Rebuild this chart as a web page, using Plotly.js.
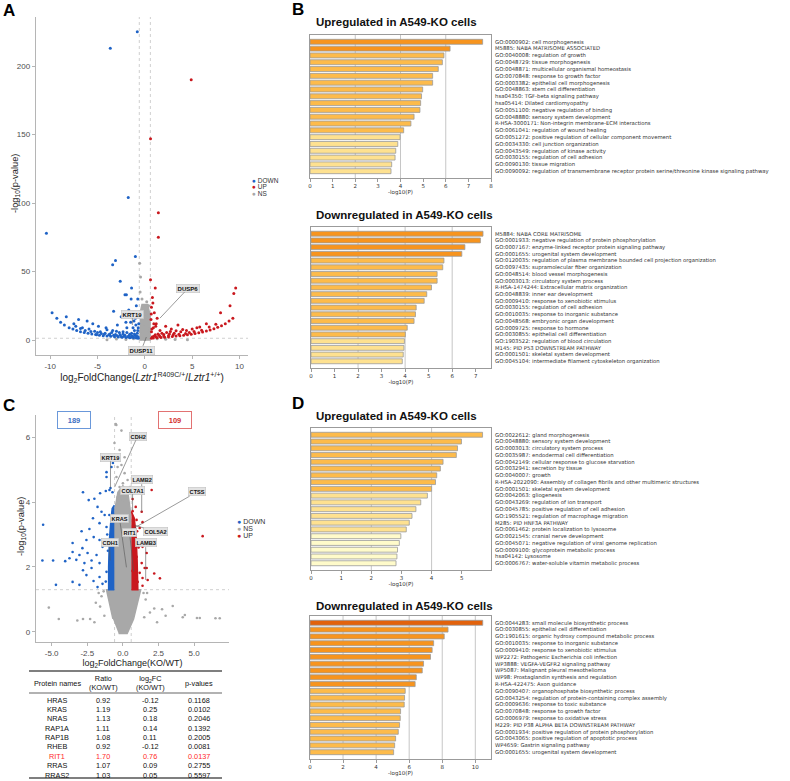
<!DOCTYPE html>
<html>
<head>
<meta charset="utf-8">
<script src="https://cdn.plot.ly/plotly-3.0.1.min.js"></script>
<style>
  html, body { margin: 0; padding: 0; background: #fff; }
  #fig { width: 790px; height: 781px; }
</style>
</head>
<body>
<div id="fig"></div>
<script>
const W = 790, H = 781;
const BLUE = "#1f63c6", RED = "#c9181e", GRAY = "#a8a8a8";

// ---- panel A volcano (RNA-seq) ----
const aBlue = [
  [-0.8, 225], [-3.65, 213], [-1.75, 104], [-10.4, 78], [-1.0, 61], [-3.1, 58], [-3.4, 55],
  [-2.6, 43], [-1.4, 38], [-2.1, 33], [-1.95, 33], [-1.45, 30], [-0.75, 30],
  [-9.8, 20], [-9.3, 16], [-8.9, 13], [-8.5, 11], [-8.0, 9], [-7.6, 8], [-7.2, 7], [-6.8, 6],
  [-6.4, 5.5], [-6.0, 5], [-5.6, 4.5], [-5.2, 4], [-4.8, 3.5], [-4.4, 3.2], [-4.0, 3],
  [-3.6, 2.7], [-3.2, 2.5], [-2.8, 2.3], [-2.4, 2.1], [-2.0, 1.9], [-1.6, 1.7], [-1.2, 1.6],
  [-0.9, 1.5], [-7.5, 12], [-6.6, 9], [-5.9, 8], [-5.3, 6.5], [-4.7, 6], [-4.2, 5], [-3.7, 4.5],
  [-3.1, 4], [-2.6, 3.8], [-2.1, 3.5], [-1.7, 3], [-1.3, 2.8], [-0.9, 3], [-0.7, 2.2],
  [-6.1, 14], [-4.9, 10], [-4.1, 9], [-3.4, 7], [-2.9, 11], [-2.3, 6], [-1.9, 9], [-1.5, 13],
  [-1.1, 7], [-0.8, 5], [-0.7, 9], [-1.0, 16], [-2.5, 17], [-3.3, 21], [-1.7, 22], [-0.9, 25],
  [-0.65, 12], [-1.4, 5], [-2.0, 13], [-5.5, 12], [-8.3, 17], [-7.0, 15],
  [-0.7, 1.4], [-0.8, 2.6], [-1.0, 3.6], [-1.1, 4.4], [-1.2, 2.2], [-1.4, 3.2], [-1.5, 1.9],
  [-1.6, 4.2], [-1.8, 2.5], [-1.9, 5.5], [-2.2, 2.8], [-2.3, 4.5], [-2.5, 2.6], [-2.7, 5.5],
  [-2.9, 3.2], [-3.0, 6.5], [-3.3, 3.6], [-3.5, 5.5], [-3.8, 3.8], [-4.0, 7.5], [-4.3, 4.2],
  [-4.6, 4.8], [-5.0, 5.5], [-5.1, 3.9], [-5.7, 6.2], [-6.3, 7], [-6.8, 8.5], [-7.3, 10],
  [-0.75, 7], [-0.95, 11], [-1.25, 9], [-0.68, 18], [-1.15, 14], [-0.85, 20]
];
const aRed = [
  [4.9, 190], [0.6, 147], [1.43, 93], [1.43, 75], [0.6, 44], [1.1, 38], [9.6, 38], [9.4, 34],
  [0.8, 31], [0.9, 1.5], [1.3, 1.7], [1.7, 1.9], [2.1, 2.1], [2.5, 2.3], [2.9, 2.6], [3.3, 2.9],
  [3.7, 3.2], [4.1, 3.5], [4.5, 3.9], [4.9, 4.3], [5.3, 4.8], [5.7, 5.3], [6.1, 5.9], [6.5, 6.6],
  [6.9, 7.4], [7.3, 8.3], [7.7, 9.3], [8.1, 10.5], [8.5, 12], [8.9, 14], [9.3, 16],
  [1.0, 3], [1.5, 3.5], [2.0, 4], [2.6, 4.5], [3.1, 5], [3.8, 6], [4.4, 7], [5.0, 8], [5.8, 9.5],
  [0.7, 6], [0.9, 9], [1.2, 12], [1.6, 7], [2.2, 10], [2.8, 8], [0.65, 15], [1.0, 20],
  [0.7, 24], [3.5, 11], [6.5, 12], [8.0, 20], [9.0, 25],
  [0.7, 1.4], [0.8, 2.5], [1.1, 3.8], [1.2, 2.2], [1.4, 4.5], [1.6, 2.6], [1.8, 5], [2.0, 3],
  [2.3, 5.5], [2.5, 3.3], [2.7, 6.2], [3.0, 3.8], [3.3, 6.8], [3.6, 4.2], [4.0, 7.8], [4.3, 4.8],
  [4.7, 5.6], [5.2, 6.2], [5.5, 9], [6.0, 7.2], [6.8, 9.5], [7.5, 11.5], [0.75, 8], [0.95, 12],
  [1.3, 16], [0.68, 19], [1.15, 10], [0.85, 27]
];
const aGray = [
  [-0.55, 56], [-0.45, 46], [-0.5, 35], [-0.3, 30], [0.2, 28], [0.4, 25], [-0.2, 22],
  [0.1, 19], [-0.4, 17], [0.3, 15], [0, 12], [-0.3, 10], [0.5, 8], [-0.5, 6], [0.2, 5],
  [-0.1, 3], [0.4, 2], [-0.4, 1], [0, 0.5], [-3, 0.8], [-2, 0.5], [-1.2, 1.0], [1.3, 0.9],
  [2.2, 0.6], [3.2, 0.4], [-4, 0.3], [4.5, 0.3]
];
const aGrayCore = [[-0.55, 0], [0.55, 0], [0.55, 18], [0.3, 26], [-0.3, 26], [-0.55, 18]];
const aLabels = [
  ["DUSP6", 1.6, 16, 4.6, 38],
  ["KRT19", -1.32, 11, -1.32, 19],
  ["DUSP11", 0.16, 2.2, -0.37, -7.3]
];

// ---- panel C volcano (proteomics) ----
const cBlue = [
  [-5.6, 3.3], [-2.9, 3.1], [-5.65, 2.2], [-4.9, 2.2], [-4.05, 2.18], [-3.53, 2.74],
  [-2.8, 4.3], [-2.4, 4.06], [-2.0, 4.1], [-1.6, 4.27], [-1.2, 4.34], [-0.94, 4.37],
  [-0.73, 4.3], [-1.15, 4.77], [-1.15, 4.92], [-0.8, 5.08], [-0.7, 5.2], [-0.87, 4.43],
  [-1.78, 3.85], [-1.5, 3.7], [-1.28, 3.6], [-2.1, 3.5], [-1.64, 3.35], [-1.15, 3.23],
  [-2.35, 3.17], [-2.05, 2.92], [-2.56, 2.83], [-1.64, 2.83], [-1.43, 2.62], [-2.84, 2.58],
  [-2.48, 2.43], [-1.85, 2.37], [-2.2, 2.2], [-2.7, 2.12], [-3.53, 2.46], [-1.64, 2.12],
  [-3.27, 2.22], [-3.75, 2.27], [-3.05, 2.37], [-2.8, 1.9], [-2.56, 1.75], [-2.06, 1.57],
  [-1.64, 1.69], [-1.43, 1.48], [-1.78, 1.38], [-3.53, 1.54], [-4.7, 1.45], [-3.05, 1.45],
  [-1.15, 1.85], [-2.2, 1.97], [-1.05, 2.5], [-1.1, 3.0], [-0.95, 3.6], [-1.2, 1.55]
];
const cBlueCore = [[-0.6, 1.3], [-1.0, 1.3], [-1.0, 2.0], [-0.95, 2.8], [-0.85, 3.4], [-0.75, 3.8], [-0.6, 3.9]];
const cRed = [
  [2.02, 4.37], [5.6, 2.95], [2.6, 1.65], [2.2, 1.8], [0.68, 3.72], [1.32, 3.7], [0.9, 3.85],
  [0.96, 3.45], [1.38, 3.38], [1.74, 3.14], [1.18, 3.2], [2.02, 2.77], [1.04, 2.83],
  [1.38, 2.62], [1.67, 2.43], [0.96, 2.31], [1.32, 2.12], [1.53, 1.97], [0.82, 1.85],
  [0.96, 1.69], [0.68, 4.09], [0.68, 1.88], [0.82, 1.6], [1.04, 1.54], [1.38, 1.66],
  [1.74, 1.6], [1.18, 1.82], [0.96, 1.42], [1.38, 1.42], [1.67, 1.97], [1.1, 2.6], [1.0, 3.1]
];
const cRedCore = [[0.6, 1.3], [1.05, 1.3], [1.0, 2.2], [0.92, 3.0], [0.8, 3.5], [0.6, 3.7]];
const cGray = [
  [-0.5, 6.4], [-0.37, 5.08], [-0.1, 5.14], [-0.45, 4.77], [0.12, 4.89], [0.33, 4.68],
  [-0.23, 4.46], [0.26, 4.28], [-0.37, 4.15], [-0.02, 4.06], [-0.59, 5.82], [-0.23, 5.6],
  [0.12, 5.38], [-0.1, 6.2], [-0.46, 6.37], [0, 4.58], [0.5, 4.46],
  [-5.2, 0.75], [-4.5, 0.4], [3.5, 0.8], [4.2, 0.45], [4.35, 0.52], [5.2, 0.43], [5.4, 0.43],
  [6.5, 0.42], [6.8, 0.42], [-2.8, 0.4], [-2.3, 0.4], [-1.6, 0.78], [2.75, 0.7], [2.2, 0.72],
  [-1.9, 0.9], [-1.5, 1.1], [1.6, 1.0], [1.9, 0.6], [-2.0, 0.3], [2.4, 0.3], [-1.3, 0.5],
  [1.5, 0.45], [-3.2, 0.35], [3.0, 0.5], [-1.7, 1.2], [1.7, 1.2], [-1.35, 1.25], [1.45, 1.2]
];
const cGrayCore = [
  [-0.3, -0.05], [0.3, -0.05], [0.75, 0.4], [1.05, 0.9], [1.25, 1.3], [0.6, 1.3], [0.6, 3.0],
  [0.5, 3.8], [0.35, 4.3], [0, 4.5], [-0.35, 4.3], [-0.55, 3.8], [-0.6, 3.0], [-0.6, 1.3],
  [-1.15, 1.3], [-0.95, 0.9], [-0.7, 0.4]
];
const cLabels = [
  ["CDH2", -0.58, 4.46, 1.04, 6.03],
  ["KRT19", -0.87, 4.43, -0.87, 5.38],
  ["LAMB2", 1.32, 3.69, 1.32, 4.68],
  ["COL7A1", 0.68, 3.75, 0.68, 4.37],
  ["CTSS", 0.68, 3.17, 5.2, 4.31],
  ["KRAS", 0.25, 1.99, -0.23, 3.48],
  ["RIT1", 0.76, 1.86, 0.47, 3.05],
  ["COL5A2", 0.82, 3.29, 2.3, 3.08],
  ["CDH1", -0.9, 2.2, -0.94, 2.74],
  ["LAMB3", 1.6, 1.6, 1.6, 2.74]
];
const cCounts = ["189", "109"];

// ---- table ----
const tableHeader = ["Protein names", "Ratio<br>(KO/WT)", "log<sub>2</sub>FC<br>(KO/WT)", "p-values"];
const protNames = ["HRAS", "KRAS", "NRAS", "RAP1A", "RAP1B", "RHEB", "RIT1", "RRAS", "RRAS2"];
const protRatio = ["0.92", "1.19", "1.13", "1.11", "1.08", "0.92", "1.70", "1.07", "1.03"];
const protLog2FC = ["-0.12", "0.25", "0.18", "0.14", "0.11", "-0.12", "0.76", "0.09", "0.05"];
const protP = ["0.1168", "0.0102", "0.2046", "0.1392", "0.2005", "0.0081", "0.0137", "0.2755", "0.5597"];

// ---- enrichment bars ----
const bUpTerms = [
  "GO:0000902: cell morphogenesis",
  "M5885: NABA MATRISOME ASSOCIATED",
  "GO:0040008: regulation of growth",
  "GO:0048729: tissue morphogenesis",
  "GO:0048871: multicellular organismal homeostasis",
  "GO:0070848: response to growth factor",
  "GO:0003382: epithelial cell morphogenesis",
  "GO:0048863: stem cell differentiation",
  "hsa04350: TGF-beta signaling pathway",
  "hsa05414: Dilated cardiomyopathy",
  "GO:0051100: negative regulation of binding",
  "GO:0048880: sensory system development",
  "R-HSA-3000171: Non-integrin membrane-ECM interactions",
  "GO:0061041: regulation of wound healing",
  "GO:0051272: positive regulation of cellular component movement",
  "GO:0034330: cell junction organization",
  "GO:0043549: regulation of kinase activity",
  "GO:0030155: regulation of cell adhesion",
  "GO:0090130: tissue migration",
  "GO:0090092: regulation of transmembrane receptor protein serine/threonine kinase signaling pathway"
];
const bUpVals = [7.63, 6.19, 5.92, 5.85, 5.67, 5.42, 5.42, 4.98, 4.93, 4.89, 4.86, 4.60, 4.46, 4.14, 3.98, 3.88, 3.79, 3.76, 3.61, 3.58];

const bDownTerms = [
  "M5884: NABA CORE MATRISOME",
  "GO:0001933: negative regulation of protein phosphorylation",
  "GO:0007167: enzyme-linked receptor protein signaling pathway",
  "GO:0001655: urogenital system development",
  "GO:0120035: regulation of plasma membrane bounded cell projection organization",
  "GO:0097435: supramolecular fiber organization",
  "GO:0048514: blood vessel morphogenesis",
  "GO:0003013: circulatory system process",
  "R-HSA-1474244: Extracellular matrix organization",
  "GO:0048839: inner ear development",
  "GO:0009410: response to xenobiotic stimulus",
  "GO:0030155: regulation of cell adhesion",
  "GO:0010035: response to inorganic substance",
  "GO:0048568: embryonic organ development",
  "GO:0009725: response to hormone",
  "GO:0030855: epithelial cell differentiation",
  "GO:1903522: regulation of blood circulation",
  "M145: PID P53 DOWNSTREAM PATHWAY",
  "GO:0001501: skeletal system development",
  "GO:0045104: intermediate filament cytoskeleton organization"
];
const bDownVals = [7.31, 7.20, 6.54, 6.41, 5.65, 5.60, 5.36, 5.36, 5.12, 4.92, 4.81, 4.47, 4.44, 4.38, 4.09, 4.01, 3.97, 3.95, 3.92, 3.88];

const dUpTerms = [
  "GO:0022612: gland morphogenesis",
  "GO:0048880: sensory system development",
  "GO:0003013: circulatory system process",
  "GO:0035987: endodermal cell differentiation",
  "GO:0042149: cellular response to glucose starvation",
  "GO:0032941: secretion by tissue",
  "GO:0040007: growth",
  "R-HSA-2022090: Assembly of collagen fibrils and other multimeric structures",
  "GO:0001501: skeletal system development",
  "GO:0042063: gliogenesis",
  "GO:0043269: regulation of ion transport",
  "GO:0045785: positive regulation of cell adhesion",
  "GO:1905521: regulation of macrophage migration",
  "M285: PID HNF3A PATHWAY",
  "GO:0061462: protein localization to lysosome",
  "GO:0021545: cranial nerve development",
  "GO:0045071: negative regulation of viral genome replication",
  "GO:0009100: glycoprotein metabolic process",
  "hsa04142: Lysosome",
  "GO:0006767: water-soluble vitamin metabolic process"
];
const dUpVals = [5.69, 4.99, 4.86, 4.82, 4.38, 4.29, 4.17, 4.13, 4.00, 3.86, 3.64, 3.48, 3.35, 3.26, 3.16, 2.98, 2.93, 2.87, 2.85, 2.82];

const dDownTerms = [
  "GO:0044283: small molecule biosynthetic process",
  "GO:0030855: epithelial cell differentiation",
  "GO:1901615: organic hydroxy compound metabolic process",
  "GO:0010035: response to inorganic substance",
  "GO:0009410: response to xenobiotic stimulus",
  "WP2272: Pathogenic Escherichia coli infection",
  "WP3888: VEGFA-VEGFR2 signaling pathway",
  "WP5087: Malignant pleural mesothelioma",
  "WP98: Prostaglandin synthesis and regulation",
  "R-HSA-422475: Axon guidance",
  "GO:0090407: organophosphate biosynthetic process",
  "GO:0043254: regulation of protein-containing complex assembly",
  "GO:0009636: response to toxic substance",
  "GO:0070848: response to growth factor",
  "GO:0006979: response to oxidative stress",
  "M229: PID P38 ALPHA BETA DOWNSTREAM PATHWAY",
  "GO:0001934: positive regulation of protein phosphorylation",
  "GO:0043065: positive regulation of apoptotic process",
  "WP4659: Gastrin signaling pathway",
  "GO:0001655: urogenital system development"
];
const dDownVals = [10.45, 8.35, 8.12, 7.48, 7.39, 7.29, 6.87, 6.79, 6.43, 6.36, 5.76, 5.72, 5.70, 5.48, 5.46, 5.42, 5.34, 5.18, 5.12, 5.06];

const fcCut = Math.log2(1.5);
const pCut = -Math.log10(0.05);

// helpers: pixel boxes -> paper domains
const dx = (l, r) => [l / W, r / W];
const dy = (t, b) => [1 - b / H, 1 - t / H];
const px = (x) => x / W;
const py = (y) => 1 - y / H;

function barColor(v) {
  if (v >= 10) return "#e2620c";
  if (v >= 6) return "#f7941e";
  if (v >= 4) return "#fdbb4b";
  if (v >= 3) return "#fee190";
  return "#fffbca";
}

const traces = [];
function pts(arr, color, xa, ya, size) {
  return {
    type: "scatter", mode: "markers", xaxis: xa, yaxis: ya, showlegend: false, hoverinfo: "skip",
    x: arr.map((p) => p[0]), y: arr.map((p) => p[1]),
    marker: { color, size: size || 3, line: { width: 0 } }
  };
}
function core(arr, color, xa, ya) {
  return {
    type: "scatter", mode: "lines", xaxis: xa, yaxis: ya, showlegend: false, hoverinfo: "skip",
    x: arr.map((p) => p[0]), y: arr.map((p) => p[1]),
    fill: "toself", fillcolor: color, line: { width: 1.5, color }
  };
}

traces.push(core(aGrayCore, GRAY, "x", "y"));
traces.push(pts(aGray, GRAY, "x", "y"));
traces.push(pts(aBlue, BLUE, "x", "y"));
traces.push(pts(aRed, RED, "x", "y"));

traces.push(core(cGrayCore, GRAY, "x2", "y2"));
traces.push(pts(cGray, GRAY, "x2", "y2", 2.6));
traces.push(core(cBlueCore, BLUE, "x2", "y2"));
traces.push(core(cRedCore, RED, "x2", "y2"));
traces.push(pts(cBlue, BLUE, "x2", "y2", 2.6));
traces.push(pts(cRed, RED, "x2", "y2", 2.6));

const barSets = [
  [bUpTerms, bUpVals, "x3", "y3"],
  [bDownTerms, bDownVals, "x4", "y4"],
  [dUpTerms, dUpVals, "x5", "y5"],
  [dDownTerms, dDownVals, "x6", "y6"]
];
barSets.forEach(([terms, vals, xa, ya]) => {
  traces.push({
    type: "bar", orientation: "h", xaxis: xa, yaxis: ya, showlegend: false, hoverinfo: "skip",
    x: vals, y: terms,
    marker: { color: vals.map(barColor), line: { color: "#9b9b9b", width: 0.8 } }
  });
});

const sans = "Liberation Sans, Arial, sans-serif";
const tickFont = { family: sans, size: 8, color: "#4d4d4d" };
function volcanoAxis(dom, range, tickvals, ticktext, anchor, title, tsize) {
  return {
    domain: dom, range, anchor, tickvals, ticktext, showgrid: false, zeroline: false,
    showline: true, linecolor: "#b5b5b5", linewidth: 1.3, ticks: "outside", ticklen: 3,
    tickcolor: "#b5b5b5", tickfont: tickFont,
    title: { text: title, font: { family: sans, size: tsize, color: "#222" }, standoff: 2 }
  };
}
const smallFont = { family: "DejaVu Sans, sans-serif", size: 5.5, color: "#333" };
function barX(dom, range, dtick, anchor) {
  return {
    domain: dom, range, anchor, dtick, tick0: 0, showgrid: false, zeroline: false,
    showline: true, mirror: true, linecolor: "#9b9b9b", linewidth: 1,
    ticks: "outside", ticklen: 2.5, tickcolor: "#9b9b9b", tickfont: smallFont,
    title: { text: "-log10(P)", font: smallFont, standoff: 1 }
  };
}
function barY(dom, terms, anchor) {
  return {
    domain: dom, anchor, type: "category", categoryorder: "array", categoryarray: terms,
    range: [20, -1], tickmode: "array", tickvals: terms, ticktext: terms,
    side: "right", ticks: "", ticklabelstandoff: 2, showgrid: false, zeroline: false,
    showline: true, mirror: true, linecolor: "#9b9b9b", linewidth: 1,
    tickfont: { family: "DejaVu Sans, sans-serif", size: 5.3, color: "#333" }
  };
}

const layout = {
  width: W, height: H, margin: { l: 0, r: 0, t: 0, b: 0 },
  paper_bgcolor: "#fff", plot_bgcolor: "rgba(0,0,0,0)", showlegend: false, bargap: 0.27,
  xaxis: volcanoAxis(dx(36, 248), [-11.5, 10.9], [-10, -5, 0, 5, 10], ["-10", "-5", "0", "5", "10"], "y",
    "log<sub>2</sub>FoldChange(<i>Lztr1</i><sup>R409C/+</sup>/<i>Lztr1</i><sup>+/+</sup>)", 10),
  yaxis: volcanoAxis(dy(17, 355), [-10.9, 235.8], [0, 50, 100, 150, 200], ["0", "50", "100", "150", "200"], "x", "", 9),
  xaxis2: volcanoAxis(dx(36, 229), [-6.1, 7.45], [-5, -2.5, 0, 2.5, 5], ["-5.0", "-2.5", "0.0", "2.5", "5.0"], "y2",
    "log<sub>2</sub>FoldChange(KO/WT)", 9),
  yaxis2: volcanoAxis(dy(415, 642), [-0.31, 6.68], [0, 2, 4, 6], ["0", "2", "4", "6"], "x2", "", 9),
  xaxis3: barX(dx(310, 491), [0, 8], 1, "y3"),
  yaxis3: barY(dy(35, 178), bUpTerms, "x3"),
  xaxis4: barX(dx(311, 491), [0, 7.65], 1, "y4"),
  yaxis4: barY(dy(227, 368), bDownTerms, "x4"),
  xaxis5: barX(dx(311, 491), [0, 5.97], 1, "y5"),
  yaxis5: barY(dy(428, 570), dUpTerms, "x5"),
  xaxis6: barX(dx(310, 491), [0, 10.95], 2, "y6"),
  yaxis6: barY(dy(616, 759), dDownTerms, "x6"),
  shapes: [],
  annotations: []
};

// y titles of the volcanoes, placed like the original
[[15, 184], [21, 527]].forEach(([x, y]) => layout.annotations.push({
  text: "-log<sub>10</sub>(p-value)", x: px(x), y: py(y), xref: "paper", yref: "paper", showarrow: false,
  textangle: -90, xanchor: "center", yanchor: "middle", font: { family: sans, size: 9.3, color: "#222" } }));

// threshold lines on the volcanoes
[["x", "y"], ["x2", "y2"]].forEach(([xa, ya]) => {
  [-fcCut, fcCut].forEach((v) => layout.shapes.push({
    type: "line", xref: xa, yref: ya + " domain", x0: v, x1: v, y0: 0, y1: 1,
    line: { color: "#c4c4c4", width: 0.8, dash: "dot" }, layer: "below"
  }));
  layout.shapes.push({
    type: "line", xref: xa + " domain", yref: ya, x0: 0, x1: 1, y0: pCut, y1: pCut,
    line: { color: "#c4c4c4", width: 0.8, dash: "dot" }, layer: "below"
  });
});

// grid lines of the bar charts
[["x3", "y3", [2, 4, 6]], ["x4", "y4", [2, 4, 6]], ["x5", "y5", [2, 4]], ["x6", "y6", [2, 4, 6, 8, 10]]].forEach(([xa, ya, g]) => {
  g.forEach((v) => layout.shapes.push({
    type: "line", xref: xa, yref: ya + " domain", x0: v, x1: v, y0: 0, y1: 1,
    line: { color: "#c6c6c6", width: 1 }, layer: "below"
  }));
});

// gene labels
function geneLabels(list, xa, ya, fs) {
  list.forEach(([g, x, y, lx, ly]) => layout.annotations.push({
    x, y, xref: xa, yref: ya, ax: lx, ay: ly, axref: xa, ayref: ya,
    text: "<b>" + g + "</b>", showarrow: true, arrowhead: 0, arrowwidth: 0.6, arrowcolor: "#555",
    standoff: 0, bgcolor: "#e2e2e2", bordercolor: "#c2c2c2", borderwidth: 0.6, borderpad: 1,
    font: { family: sans, size: fs, color: "#111" }
  }));
}
geneLabels(aLabels, "x", "y", 6);
geneLabels(cLabels, "x2", "y2", 5.6);

// panel letters and titles
[["A", 8.5, 11], ["B", 297.5, 10], ["C", 9, 405], ["D", 297.5, 403]].forEach(([t, x, y]) =>
  layout.annotations.push({ text: "<b>" + t + "</b>", x: px(x), y: py(y), xref: "paper", yref: "paper",
    showarrow: false, xanchor: "center", yanchor: "middle", font: { family: sans, size: 17, color: "#000" } }));
[["Upregulated in A549-KO cells", 21.5], ["Downregulated in A549-KO cells", 214.5],
 ["Upregulated in A549-KO cells", 415.5], ["Downregulated in A549-KO cells", 605.5]].forEach(([t, y]) =>
  layout.annotations.push({ text: "<b>" + t + "</b>", x: px(314), y: py(y), xref: "paper", yref: "paper",
    showarrow: false, xanchor: "left", yanchor: "middle", font: { family: sans, size: 11.5, color: "#111" } }));

// legends
const legA = [["DOWN", BLUE], ["UP", RED], ["NS", GRAY]];
const legC = [["DOWN", BLUE], ["NS", GRAY], ["UP", RED]];
legA.forEach(([t, c], i) => layout.annotations.push({
  text: "<span style='color:" + c + "'>●</span> " + t, x: px(250), y: py(180.5 + i * 6.3), xref: "paper", yref: "paper",
  showarrow: false, xanchor: "left", yanchor: "middle", font: { family: sans, size: 6.5, color: "#333" } }));
legC.forEach(([t, c], i) => layout.annotations.push({
  text: "<span style='color:" + c + "'>●</span> " + t, x: px(235.5), y: py(521 + i * 7.2), xref: "paper", yref: "paper",
  showarrow: false, xanchor: "left", yanchor: "middle", font: { family: sans, size: 7, color: "#333" } }));

// DEG count boxes
[[cCounts[0], 74, "#6a98da", "#3d6fc2"], [cCounts[1], 175, "#e27272", "#d32f2f"]].forEach(([t, x, bc, tc]) =>
  layout.annotations.push({ text: "<b>" + t + "</b>", x: px(x), y: py(420), xref: "paper", yref: "paper",
    showarrow: false, xanchor: "center", yanchor: "middle", width: 32, height: 16, borderpad: 0,
    bordercolor: bc, borderwidth: 1, font: { family: sans, size: 7.5, color: tc } }));

// table
const colX = [57, 103, 150, 199];
tableHeader.forEach((t, i) => layout.annotations.push({
  text: t, x: px(colX[i]), y: py(683), xref: "paper", yref: "paper", showarrow: false,
  xanchor: "center", yanchor: "middle", font: { family: sans, size: 7.3, color: "#111" } }));
protNames.forEach((n, r) => {
  const color = n === "RIT1" ? "#ff2a2a" : "#111";
  [n, protRatio[r], protLog2FC[r], protP[r]].forEach((t, i) => layout.annotations.push({
    text: t, x: px(colX[i]), y: py(700 + r * 9.38), xref: "paper", yref: "paper", showarrow: false,
    xanchor: "center", yanchor: "middle", font: { family: sans, size: 7.3, color } }));
});
[[671, 1.6, "#555"], [693, 1.6, "#999"], [778, 1.6, "#555"]].forEach(([y, w, c]) => layout.shapes.push({
  type: "line", xref: "paper", yref: "paper", x0: px(29), x1: px(222), y0: py(y), y1: py(y),
  line: { color: c, width: w } }));

Plotly.newPlot("fig", traces, layout, { staticPlot: true, displayModeBar: false });
</script>
</body>
</html>
